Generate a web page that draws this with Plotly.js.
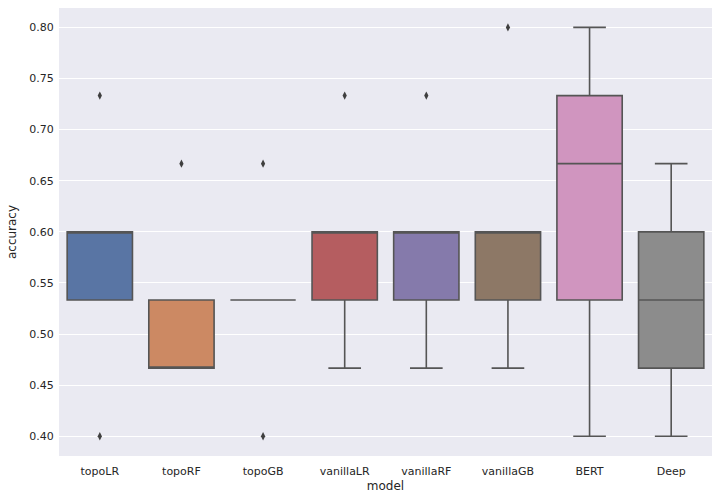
<!DOCTYPE html>
<html>
<head>
<meta charset="utf-8">
<script src="https://cdn.plot.ly/plotly-3.0.1.min.js"></script>
<style>html,body{margin:0;padding:0;background:#fff;}#chart{width:718px;height:500px;}</style>
</head>
<body>
<div id="chart"></div>
<script>
const models = ["topoLR","topoRF","topoGB","vanillaLR","vanillaRF","vanillaGB","BERT","Deep"];
const topoLR    = [0.4, 0.5333, 0.6, 0.6, 0.7333];
const topoRF    = [0.4667, 0.4667, 0.4667, 0.5333, 0.6667];
const topoGB    = [0.4, 0.5333, 0.5333, 0.5333, 0.6667];
const vanillaLR = [0.4667, 0.5333, 0.6, 0.6, 0.7333];
const vanillaRF = [0.4667, 0.5333, 0.6, 0.6, 0.7333];
const vanillaGB = [0.4667, 0.5333, 0.6, 0.6, 0.8];
const BERT      = [0.4, 0.5333, 0.6667, 0.7333, 0.8];
const Deep      = [0.4, 0.4667, 0.5333, 0.6, 0.6667];
const seriesValues = [topoLR, topoRF, topoGB, vanillaLR, vanillaRF, vanillaGB, BERT, Deep];
const colors = ["#5975a4","#cc8963","#5f9e6e","#b55d60","#857aab","#8d7866","#d095bf","#8c8c8c"];
const yTicks = [0.40,0.45,0.50,0.55,0.60,0.65,0.70,0.75,0.80];

const traces = models.map((m, i) => ({
  type: "box",
  name: m,
  x: seriesValues[i].map(() => m),
  y: seriesValues[i],
  quartilemethod: "inclusive",
  boxpoints: "outliers",
  fillcolor: colors[i],
  line: {color: "#555555", width: 1.6},
  whiskerwidth: 0.5,
  marker: {symbol: "diamond-tall", size: 6, color: "#3f3f3f", line: {width: 0}},
  showlegend: false,
  hoverinfo: "y"
}));

const layout = {
  width: 718, height: 500,
  margin: {l: 59, r: 6, t: 8, b: 44},
  paper_bgcolor: "#ffffff",
  plot_bgcolor: "#eaeaf2",
  font: {family: "DejaVu Sans, sans-serif", size: 11, color: "#262626"},
  boxmode: "overlay",
  boxgap: 0.2,
  boxgroupgap: 0,
  xaxis: {
    type: "category",
    categoryorder: "array",
    categoryarray: models,
    range: [-0.5, 7.5],
    showgrid: false, zeroline: false, showline: false,
    ticks: "outside", ticklen: 5, tickcolor: "rgba(0,0,0,0)",
    tickfont: {size: 11, color: "#262626"},
    title: {text: "model", font: {size: 12, color: "#262626"}, standoff: 4}
  },
  yaxis: {
    range: [0.3807, 0.819],
    tickvals: yTicks,
    ticktext: yTicks.map(v => v.toFixed(2)),
    showgrid: true, gridcolor: "#ffffff", gridwidth: 1,
    zeroline: false, showline: false,
    ticks: "outside", ticklen: 2, tickcolor: "rgba(0,0,0,0)",
    tickfont: {size: 11, color: "#262626"},
    title: {text: "accuracy", font: {size: 12, color: "#262626"}, standoff: 10}
  }
};

Plotly.newPlot("chart", traces, layout, {displayModeBar: false, staticPlot: true});
</script>
</body>
</html>
